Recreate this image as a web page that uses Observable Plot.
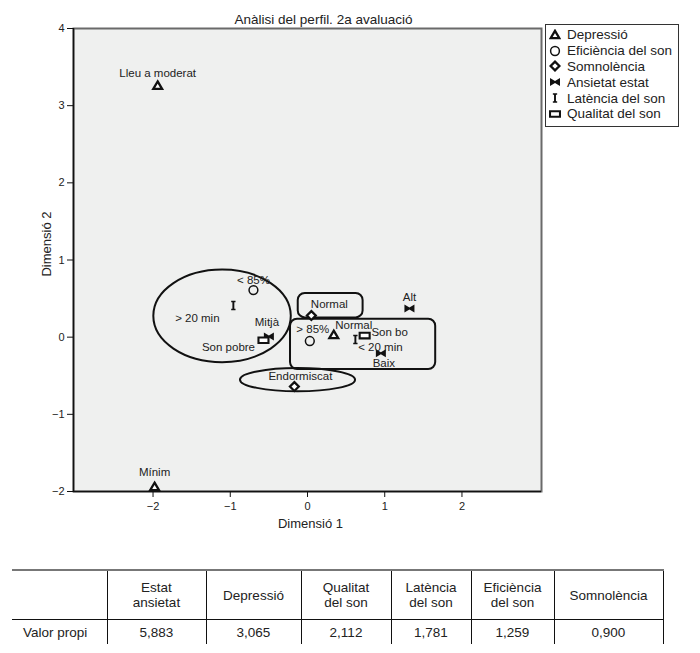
<!DOCTYPE html>
<html>
<head>
<meta charset="utf-8">
<script src="https://cdn.jsdelivr.net/npm/d3@7"></script>
<script src="https://cdn.jsdelivr.net/npm/@observablehq/plot@0.6"></script>
<style>
  body { margin: 0; background: white; font-family: "Liberation Sans", Arial, sans-serif; color: #222; }
  #wrap { position: relative; width: 700px; height: 653px; }
  #legend { position: absolute; left: 545px; top: 24px; width: 134px; height: 103px; border: 1px solid #333; background: white; box-sizing: border-box; padding-top: 2px; }
  .lrow { display: flex; align-items: center; height: 15.8px; font-size: 13.5px; white-space: nowrap; }
  .lrow svg { margin-left: 3px; margin-right: 6px; }
  table { position: absolute; left: 12px; top: 569px; border-collapse: collapse; font-size: 13.5px; color: #222; }
  th, td { font-weight: normal; text-align: center; padding: 0; line-height: 15px; }
  thead tr { border-top: 2px solid #777; }
  th { height: 48px; border-bottom: 1px solid #111; }
  td { height: 24px; }
  th + th, td + td { border-left: 1px solid #111; }
  th:last-child, td:last-child { border-right: 1px solid #111; }
  td.rowhead { text-align: left; padding-left: 11px; }
</style>
</head>
<body>
<div id="wrap"></div>
<script>
// ---- Data ----
const variables = ["Depressió", "Eficiència del son", "Somnolència", "Ansietat estat", "Latència del son", "Qualitat del son"];
const pointVariable = ["Depressió", "Depressió", "Depressió",
  "Eficiència del son", "Eficiència del son",
  "Somnolència", "Somnolència",
  "Ansietat estat", "Ansietat estat", "Ansietat estat",
  "Latència del son", "Latència del son",
  "Qualitat del son", "Qualitat del son"];
const pointLabel = ["Lleu a moderat", "Normal", "Mínim",
  "< 85%", "> 85%",
  "Normal", "Endormiscat",
  "Alt", "Mitjà", "Baix",
  "> 20 min", "< 20 min",
  "Son pobre", "Son bo"];
const dim1 = [-1.94, 0.34, -1.98, -0.70, 0.03, 0.05, -0.17, 1.32, -0.50, 0.95, -0.96, 0.62, -0.57, 0.74];
const dim2 = [3.26, 0.03, -1.94, 0.61, -0.05, 0.28, -0.64, 0.37, 0.01, -0.21, 0.41, -0.03, -0.04, 0.02];
// label offsets in pixels (style)
const labelDx = [0, 20, 0, 0, 3, 18, 6, 0, -2, 3, -36, 25, -35, 25];
const labelDy = [-12, -10, -15, -10, -12, -11, -10, -11, -14, 10, 13, 8, 7, -3];

// annotation shapes (data units)
const ellipseCx = [-1.10, -0.123];
const ellipseCy = [0.27, -0.557];
const ellipseRx = [0.89, 0.745];
const ellipseRy = [0.60, 0.151];
const boxX1 = [-0.12, -0.22];
const boxX2 = [0.72, 1.66];
const boxY1 = [0.566, 0.233];
const boxY2 = [0.25, -0.42];

const xTicks = [-2, -1, 0, 1, 2];
const yTicks = [-2, -1, 0, 1, 2, 3, 4];

const tableHeaders = [["Estat", "ansietat"], ["Depressió"], ["Qualitat", "del son"], ["Latència", "del son"], ["Eficiència", "del son"], ["Somnolència"]];
const eigenvalues = [5.883, 3.065, 2.112, 1.781, 1.259, 0.900];
const colWidths = [95, 99, 95, 90, 80, 83, 109];

// ---- Symbols ----
const rad = s => Math.sqrt(s / Math.PI);
const symTriangle = { draw(c, s) { const r = rad(s); c.moveTo(0, -r * 1.05); c.lineTo(r * 1.1, r * 0.8); c.lineTo(-r * 1.1, r * 0.8); c.closePath(); } };
const symCircle = { draw(c, s) { const r = rad(s) * 1.1; c.moveTo(r, 0); c.arc(0, 0, r, 0, 2 * Math.PI); } };
const symDiamond = { draw(c, s) { const r = rad(s) * 1.1; c.moveTo(0, -r); c.lineTo(r, 0); c.lineTo(0, r); c.lineTo(-r, 0); c.closePath(); } };
const symBowtie = { draw(c, s) { const r = rad(s) * 1.25; c.moveTo(-r, -0.8 * r); c.lineTo(0, -0.2 * r); c.lineTo(r, -0.8 * r); c.lineTo(r, 0.8 * r); c.lineTo(0, 0.2 * r); c.lineTo(-r, 0.8 * r); c.closePath(); } };
const symIbeam = { draw(c, s) { const r = rad(s) * 1.2; c.moveTo(-0.45 * r, -r); c.lineTo(0.45 * r, -r); c.lineTo(0.45 * r, -0.68 * r); c.lineTo(0.2 * r, -0.68 * r); c.lineTo(0.2 * r, 0.68 * r); c.lineTo(0.45 * r, 0.68 * r); c.lineTo(0.45 * r, r); c.lineTo(-0.45 * r, r); c.lineTo(-0.45 * r, 0.68 * r); c.lineTo(-0.2 * r, 0.68 * r); c.lineTo(-0.2 * r, -0.68 * r); c.lineTo(-0.45 * r, -0.68 * r); c.closePath(); } };
const symRect = { draw(c, s) { const r = rad(s); c.rect(-1.25 * r, -0.7 * r, 2.5 * r, 1.4 * r); } };

const symbolStyles = {
  "Depressió": { symbol: symTriangle, fill: "white", stroke: "#111", strokeWidth: 2.3 },
  "Eficiència del son": { symbol: symCircle, fill: "none", stroke: "#111", strokeWidth: 1.5 },
  "Somnolència": { symbol: symDiamond, fill: "white", stroke: "#111", strokeWidth: 2.3 },
  "Ansietat estat": { symbol: symBowtie, fill: "#111", stroke: "none", strokeWidth: 0 },
  "Latència del son": { symbol: symIbeam, fill: "#111", stroke: "none", strokeWidth: 0 },
  "Qualitat del son": { symbol: symRect, fill: "white", stroke: "#111", strokeWidth: 2.1 }
};

const points = pointLabel.map((label, i) => ({ variable: pointVariable[i], label, x: dim1[i], y: dim2[i], dx: labelDx[i], dy: labelDy[i] }));
const ellipses = ellipseCx.map((cx, i) => ({ cx, cy: ellipseCy[i], rx: ellipseRx[i], ry: ellipseRy[i] }));
const boxes = boxX1.map((x1, i) => ({ x1, x2: boxX2[i], y1: boxY1[i], y2: boxY2[i] }));

const xDomain = [-3.03, 3.03];
const yDomain = [-2, 4];
const tickFmt = d => String(d).replace("-", "\u2212");

const ellipseMark = (index, scales) => {
  const g = d3.create("svg:g").attr("fill", "none").attr("stroke", "#111").attr("stroke-width", 2);
  for (const e of ellipses) {
    const cx = scales.x(e.cx), cy = scales.y(e.cy);
    g.append("ellipse").attr("cx", cx).attr("cy", cy)
      .attr("rx", Math.abs(scales.x(e.cx + e.rx) - cx))
      .attr("ry", Math.abs(scales.y(e.cy + e.ry) - cy));
  }
  return g.node();
};

const dotMarks = variables.map(v => {
  const st = symbolStyles[v];
  return Plot.dot(points.filter(p => p.variable === v), { x: "x", y: "y", r: 4, symbol: st.symbol, fill: st.fill, stroke: st.stroke, strokeWidth: st.strokeWidth });
});

const labelMarks = points.map(p => Plot.text([p], { x: "x", y: "y", text: "label", dx: p.dx, dy: p.dy, fontSize: 11.5, fill: "#222" }));

const chart = Plot.plot({
  width: 700,
  height: 545,
  marginLeft: 73,
  marginRight: 159,
  marginTop: 28,
  marginBottom: 54,
  style: { fontFamily: "'Liberation Sans', Arial, sans-serif", fontSize: "11px", background: "transparent", color: "#222" },
  x: { domain: xDomain, ticks: xTicks },
  y: { domain: yDomain, ticks: yTicks },
  marks: [
    Plot.frame({ fill: "#eff0ef", stroke: "#6a6a6a", strokeWidth: 2 }),
    Plot.ruleX([xDomain[0]], { stroke: "#111", strokeWidth: 1.5 }),
    Plot.ruleY([yDomain[0]], { stroke: "#111", strokeWidth: 1.5 }),
    Plot.axisX({ ticks: xTicks, tickFormat: tickFmt, tickSize: 6, tickPadding: 5, label: null, fontSize: 11, stroke: "#111" }),
    Plot.axisY({ ticks: yTicks, tickFormat: tickFmt, tickSize: 6, tickPadding: 3, label: null, fontSize: 11, stroke: "#111" }),
    Plot.rect(boxes, { x1: "x1", x2: "x2", y1: "y1", y2: "y2", fill: "none", stroke: "#111", strokeWidth: 2, rx: 7 }),
    ellipseMark,
    ...dotMarks,
    ...labelMarks,
    Plot.text(["Anàlisi del perfil. 2a avaluació"], { frameAnchor: "top", dx: 16, dy: -14, fontSize: 13.5, fill: "#222" }),
    Plot.text(["Dimensió 1"], { frameAnchor: "bottom", dx: 3, dy: 36, fontSize: 13, fill: "#222" }),
    Plot.text(["Dimensió 2"], { frameAnchor: "left", textAnchor: "middle", dx: -27, dy: -16, rotate: -90, fontSize: 13, fill: "#222" })
  ]
});

const wrap = document.getElementById("wrap");
chart.style.position = "absolute";
chart.style.left = "0px";
chart.style.top = "0px";
wrap.appendChild(chart);

// legend
const legend = d3.select(wrap).append("div").attr("id", "legend");
for (const v of variables) {
  const st = symbolStyles[v];
  const row = legend.append("div").attr("class", "lrow");
  const svg = row.append("svg").attr("width", 12).attr("height", 12);
  svg.append("path")
    .attr("transform", "translate(6,6)")
    .attr("d", d3.symbol(st.symbol, Math.PI * 16)())
    .attr("fill", st.fill).attr("stroke", st.stroke).attr("stroke-width", st.strokeWidth);
  row.append("span").text(v);
}

// table
const fmt = d3.format(".3f");
const table = d3.select(wrap).append("table");
const cg = table.append("colgroup");
colWidths.forEach(w => cg.append("col").style("width", w + "px"));
const hr = table.append("thead").append("tr");
hr.append("th");
tableHeaders.forEach(lines => {
  const th = hr.append("th");
  lines.forEach((l, i) => { if (i) th.append("br"); th.append("span").text(l); });
});
const br = table.append("tbody").append("tr");
br.append("td").attr("class", "rowhead").text("Valor propi");
eigenvalues.forEach(v => br.append("td").text(fmt(v).replace(".", ",")));
table.style("width", d3.sum(colWidths) + "px").style("table-layout", "fixed");
</script>
</body>
</html>
